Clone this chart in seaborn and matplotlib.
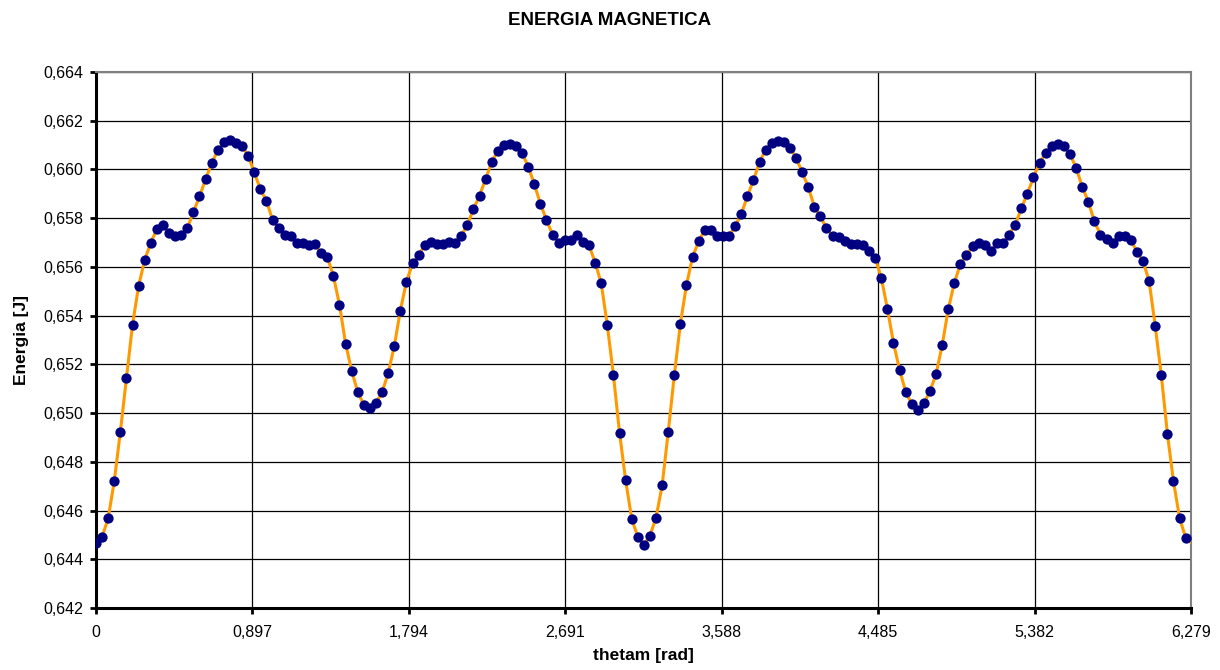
import numpy as np
import pandas as pd
import seaborn as sns
import matplotlib.pyplot as plt

# angles sampled every 2 degrees (0..360)
theta_deg = np.arange(0, 362, 2)

energia = [
    0.64467, 0.64492, 0.64568, 0.64721, 0.64923, 0.65144, 0.65363, 0.65522, 0.65629, 0.65699,
    0.65755, 0.65771, 0.65741, 0.65726, 0.65733, 0.65758, 0.65825, 0.65889, 0.65960, 0.66025,
    0.66078, 0.66111, 0.66119, 0.66108, 0.66095, 0.66056, 0.65988, 0.65919, 0.65871, 0.65793,
    0.65758, 0.65730, 0.65725, 0.65697, 0.65697, 0.65689, 0.65692, 0.65656, 0.65641, 0.65563,
    0.65444, 0.65285, 0.65174, 0.65086, 0.65034, 0.65021, 0.65041, 0.65086, 0.65164, 0.65275,
    0.65421, 0.65540, 0.65614, 0.65647, 0.65690, 0.65703, 0.65693, 0.65693, 0.65703, 0.65700,
    0.65727, 0.65773, 0.65836, 0.65893, 0.65960, 0.66030, 0.66077, 0.66101, 0.66105, 0.66097,
    0.66067, 0.66012, 0.65940, 0.65859, 0.65793, 0.65732, 0.65700, 0.65710, 0.65711, 0.65730,
    0.65703, 0.65688, 0.65618, 0.65532, 0.65360, 0.65156, 0.64920, 0.64725, 0.64567, 0.64492,
    0.64459, 0.64497, 0.64571, 0.64703, 0.64922, 0.65155, 0.65367, 0.65526, 0.65641, 0.65705,
    0.65752, 0.65752, 0.65727, 0.65727, 0.65727, 0.65767, 0.65816, 0.65890, 0.65956, 0.66030,
    0.66081, 0.66108, 0.66115, 0.66111, 0.66090, 0.66048, 0.65988, 0.65929, 0.65847, 0.65807,
    0.65759, 0.65727, 0.65721, 0.65708, 0.65693, 0.65692, 0.65688, 0.65664, 0.65637, 0.65556,
    0.65429, 0.65289, 0.65178, 0.65088, 0.65038, 0.65014, 0.65040, 0.65090, 0.65160, 0.65278,
    0.65426, 0.65534, 0.65612, 0.65649, 0.65684, 0.65699, 0.65689, 0.65664, 0.65699, 0.65699,
    0.65733, 0.65773, 0.65840, 0.65901, 0.65967, 0.66026, 0.66067, 0.66097, 0.66104, 0.66096,
    0.66062, 0.66008, 0.65930, 0.65868, 0.65788, 0.65733, 0.65714, 0.65700, 0.65725, 0.65725,
    0.65711, 0.65662, 0.65623, 0.65542, 0.65358, 0.65156, 0.64916, 0.64720, 0.64570, 0.64488,
    0.64467,
]

xticks = [0, 0.897, 1.794, 2.691, 3.588, 4.485, 5.382, 6.279]
xtick_labels = ["0", "0,897", "1,794", "2,691", "3,588", "4,485", "5,382", "6,279"]
yticks = [0.642, 0.644, 0.646, 0.648, 0.650, 0.652, 0.654, 0.656, 0.658, 0.660, 0.662, 0.664]
ytick_labels = ["0,642", "0,644", "0,646", "0,648", "0,650", "0,652", "0,654", "0,656",
                "0,658", "0,660", "0,662", "0,664"]

df = pd.DataFrame({"thetam": np.deg2rad(theta_deg), "energia": energia})

sns.set_style("white")
plt.rcParams["font.family"] = ["Liberation Sans", "DejaVu Sans"]
plt.rcParams["text.color"] = "black"
plt.rcParams["axes.labelcolor"] = "black"
plt.rcParams["xtick.color"] = "black"
plt.rcParams["ytick.color"] = "black"

fig = plt.figure(figsize=(12.2, 6.7), dpi=100)
ax = fig.add_axes([96 / 1220, 1 - 608 / 670, (1191 - 96) / 1220, (608 - 72) / 670])

sns.lineplot(data=df, x="thetam", y="energia", ax=ax, color="#FF9900", linewidth=2.2, zorder=3)
# last sample (360 deg) lies past the axis end, only the line reaches it
sns.scatterplot(data=df.iloc[:-1], x="thetam", y="energia", ax=ax, color="#000080",
                s=55, edgecolor="#000080", linewidth=0, zorder=4)

ax.set_xlim(0, 6.279)
ax.set_ylim(0.642, 0.664)
ax.set_xticks(xticks)
ax.set_xticklabels(xtick_labels)
ax.set_yticks(yticks)
ax.set_yticklabels(ytick_labels)
ax.grid(True, color="black", linewidth=0.9)
ax.set_axisbelow(True)

for side in ["left", "bottom"]:
    ax.spines[side].set_color("black")
    ax.spines[side].set_linewidth(2.2)
for side in ["top", "right"]:
    ax.spines[side].set_color("#808080")
    ax.spines[side].set_linewidth(1.5)
    ax.spines[side].set_visible(True)

ax.tick_params(axis="both", direction="out", length=4, width=2, colors="black",
               labelsize=11.5, left=True, bottom=True)
ax.tick_params(axis="x", pad=8)
ax.tick_params(axis="y", pad=5)

ax.set_xlabel("thetam [rad]", fontsize=12.5, fontweight="bold", labelpad=6, color="black")
ax.set_ylabel("Energia [J]", fontsize=12.5, fontweight="bold", labelpad=10, color="black")
fig.suptitle("ENERGIA MAGNETICA", x=0.5, y=0.982, fontsize=13.5, fontweight="bold", color="black")

fig.savefig("out.png", dpi=100)
